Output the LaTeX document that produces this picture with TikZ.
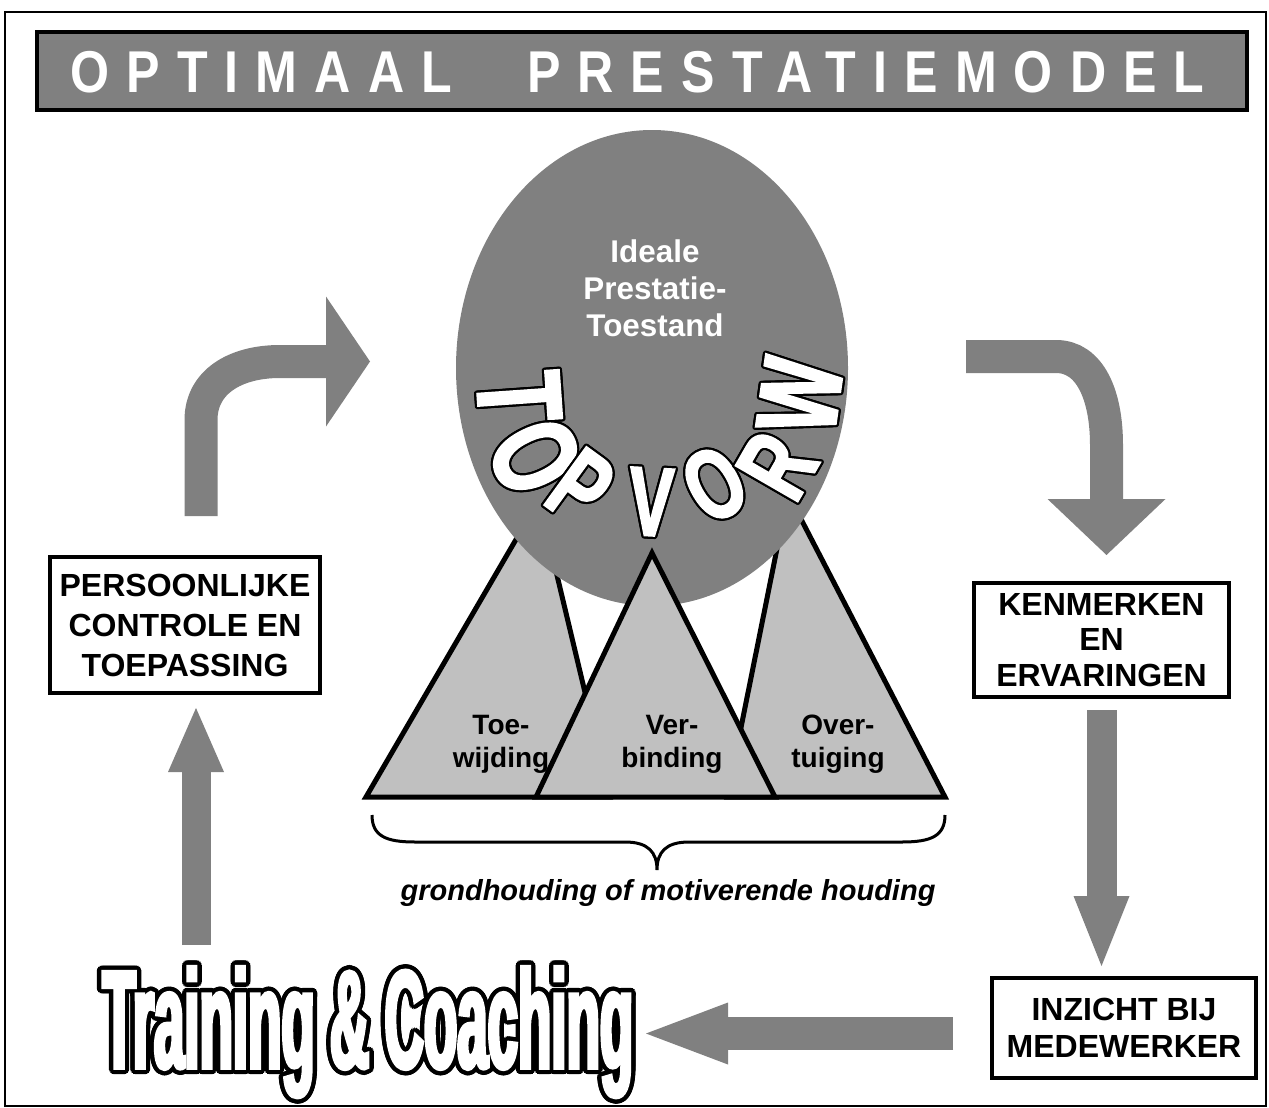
\documentclass[tikz,border=0pt]{standalone}
\usepackage{fontspec}
\setmainfont{Liberation Sans}
\newfontfamily\titlefont{Liberation Sans}[FakeStretch=0.85,LetterSpace=29]
\newfontfamily\topfont{Liberation Sans}[FakeStretch=0.68,FakeBold=2]
\newfontfamily\tcfont{Liberation Sans}[FakeStretch=0.39,FakeBold=2.5]
\usepackage{contour}
\contournumber{16}
\usetikzlibrary{arrows.meta,shapes.geometric}
\definecolor{midgray}{HTML}{808080}
\definecolor{ltgray}{HTML}{C0C0C0}
\newcommand{\tpl}[2]{\topfont\bfseries\fontsize{#1}{#1}\selectfont\contourlength{1.1pt}\contour{black}{#2}}
\tikzset{
  boxnode/.style={draw=black, line width=2pt, fill=white, align=center, inner sep=0pt, font=\bfseries\fontsize{16}{20}\selectfont},
  tri/.style={fill=ltgray, draw=black, line width=2.5pt, line join=miter},
  bigarr/.style n args={3}{draw=midgray, line width=#1, -{Triangle[length=#2, width=#3, line width=0pt]}},
  trilabel/.style={align=center, inner sep=0pt, font=\bfseries\fontsize{14}{16.5}\selectfont},
  topletter/.style={text=white, inner sep=0pt}
}
\begin{document}
\begin{tikzpicture}[x=0.5pt,y=-0.5pt]
\useasboundingbox (0,0) rectangle (1269,1108);
\fill[white] (0,0) rectangle (1269,1108);
\draw[line width=1pt] (5,12) rectangle (1266,1106);

% title bar
\node[draw=black, line width=2pt, fill=midgray, minimum width=605pt, minimum height=39pt, inner sep=0pt, anchor=north west] (bar) at (35,30) {};
\node[anchor=base west, inner sep=0pt, text=white] (title) at (70,92)
  {\titlefont\bfseries\fontsize{29.5}{30}\selectfont OPTIMAAL\hspace{37.5pt}PRESTATIEMODEL};

% side triangles
\draw[tri] (366,797) -- (539,500) -- (610,797) -- cycle;
\draw[tri] (727,797) -- (788,494) -- (945,797) -- cycle;
% circle
\node[ellipse, fill=midgray, minimum width=196pt, minimum height=238pt, inner sep=0pt] (circ) at (652,368) {};
% middle triangle
\draw[tri] (536,797) -- (652,553) -- (775,797) -- cycle;

% triangle labels
\node[trilabel] (toe) at (501,744) {Toe-\\wijding};
\node[trilabel] (ver) at (672,744) {Ver-\\binding};
\node[trilabel] (over) at (838,744) {Over-\\tuiging};

% circle text
\node[align=center, inner sep=0pt, text=white, font=\bfseries\fontsize{15.7}{18.5}\selectfont] (ideal) at (655,288) {Ideale\\Prestatie-\\Toestand};

% TOPVORM
\node[topletter, rotate=-86] (l1) at (518,397) {\tpl{60}{T}};
\node[topletter, rotate=-64] (l2) at (534,457) {\tpl{60}{O}};
\node[topletter, rotate=-36] (l3) at (580,488) {\tpl{52}{P}};
\node[topletter, rotate=-3]  (l4) at (651,503) {\tpl{49}{V}};
\node[topletter, rotate=30]  (l5) at (715,485) {\tpl{50}{O}};
\node[topletter, rotate=60]  (l6) at (778,466) {\tpl{52}{R}};
\node[topletter, rotate=82]  (l7) at (801,396) {\tpl{57}{W}};

% brace and caption
\draw[line width=1.5pt] (372,815) .. controls (372,836) and (386,842) .. (415,842) -- (625,842)
  .. controls (648,842) and (657,852) .. (657,870) .. controls (657,852) and (666,842) .. (689,842)
  -- (902,842) .. controls (931,842) and (945,836) .. (945,815);
\node[inner sep=0pt, font=\bfseries\itshape\fontsize{14.5}{17}\selectfont] (caption) at (668,893) {grondhouding of motiverende houding};

% boxes
\node[boxnode, minimum width=135pt, minimum height=68pt] (pbox) at (185,625) {PERSOONLIJKE\\CONTROLE EN\\TOEPASSING};
\node[boxnode, minimum width=127.5pt, minimum height=57pt, font=\bfseries\fontsize{16}{17.75}\selectfont] (kbox) at (1101.5,640) {KENMERKEN\\EN\\ERVARINGEN};
\node[boxnode, minimum width=132pt, minimum height=50pt, font=\bfseries\fontsize{16}{18.5}\selectfont] (ibox) at (1124,1028) {INZICHT BIJ\\MEDEWERKER};

% Training & Coaching
\node[anchor=base west, inner sep=0pt, text=white] (tc) at (102,1068)
  {\tcfont\bfseries\fontsize{70}{80}\selectfont\contourlength{2.2pt}\contour{black}{Training \& Coaching}};

% arrows
\coordinate (ua) at (196,945);
\draw[bigarr={14.5pt}{32pt}{28pt}, shorten >=6.5pt] (ua) -- (ua |- pbox.south);

\coordinate (lc0) at (201,516);
\coordinate (lc1) at (370,361.5);
\draw[bigarr={16.5pt}{22pt}{65pt}] (lc0) -- (201,420) .. controls (201,382) and (235,361.5) .. (280,361.5) -- (lc1);

\coordinate (rc0) at (966,356.5);
\coordinate (rc1) at (1106.5,555);
\draw[bigarr={16.5pt}{28pt}{59pt}] (rc0) -- (1056,356.5) .. controls (1090,356.5) and (1106.5,395) .. (1106.5,445) -- (rc1);

\draw[bigarr={15pt}{35pt}{28pt}, shorten <=5.5pt, shorten >=5pt] (kbox.south) -- (kbox.south |- ibox.north);

\coordinate (be) at (646,1033.5);
\draw[bigarr={16.5pt}{41pt}{31pt}, shorten <=18.5pt] (ibox.west |- be) -- (be);
\end{tikzpicture}
\end{document}
